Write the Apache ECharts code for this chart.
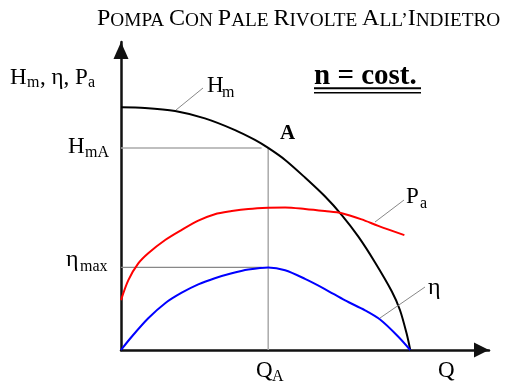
<!DOCTYPE html>
<html>
<head>
<meta charset="utf-8">
<script src="https://cdn.jsdelivr.net/npm/echarts@6/dist/echarts.min.js"></script>
<style>
  html, body { margin: 0; padding: 0; background: #fff; }
  #chart { width: 505px; height: 388px; }
</style>
</head>
<body>
<div id="chart"></div>
<script>
// Characteristic curves of a centrifugal pump, constant speed.
// Q on a 0..100 scale, heads / power / efficiency on a 0..100 scale.
const hmCurve = [
  [0, 78.8], [6.5, 78.6], [14.7, 77.6], [22.8, 75.2], [31.0, 71.4], [36.4, 68.2],
  [40, 65.6], [44.6, 61.7], [50.0, 56.0], [55.4, 49.9], [60.0, 43.8],
  [64.5, 36.8], [69.0, 28.5], [73.6, 19.0], [75.8, 13.0], [77.6, 5.4], [78.6, 0]
];
const paCurve = [
  [0, 16.2], [2.0, 22.7], [4.7, 28.1], [7.4, 31.4], [12.0, 35.7], [16.5, 39.0],
  [21.0, 42.0], [25.5, 44.1], [30.1, 45.1], [34.6, 45.8], [40, 46.2], [44.6, 46.3],
  [50.0, 45.8], [55.4, 45.1], [60.0, 44.4], [65.4, 42.4], [69.9, 40.3], [77.0, 37.3]
];
const etaCurve = [
  [0, 0], [2.9, 4.3], [7.4, 10.3], [12.0, 15.2], [16.5, 18.6], [21.0, 21.3],
  [25.5, 23.3], [30.1, 24.9], [34.6, 26.1], [40, 26.8], [44.6, 25.9],
  [50.0, 23.1], [55.4, 19.8], [60.9, 16.1], [66.3, 12.9], [70.4, 9.9],
  [75.3, 4.4], [78.6, 0]
];
const qA = 40;          // flow rate at operating point A
const axisMax = 100;

// operating point values
const hmA = hmCurve.find(p => p[0] === qA)[1];
const etaMax = Math.max(...etaCurve.map(p => p[1]));

const SERIF = '"Liberation Serif", "Times New Roman", serif';
const MIDDLE_TO_BASELINE = 0.3375;

// one text run placed by its left edge and alphabetic baseline
function run(x, baseline, str, size, weight) {
  return {
    type: 'text',
    x: x,
    y: baseline - MIDDLE_TO_BASELINE * size,
    silent: true,
    z: 100,
    style: {
      text: str,
      font: (weight || 'normal') + ' ' + size + 'px ' + SERIF,
      fill: '#000',
      align: 'left',
      verticalAlign: 'middle'
    }
  };
}

function line(x1, y1, x2, y2, color, width) {
  return {
    type: 'line', silent: true, z: 100,
    shape: { x1, y1, x2, y2 },
    style: { stroke: color, lineWidth: width }
  };
}

// small-caps heading
const measure = document.createElement('canvas').getContext('2d');
function widthOf(str, size) {
  measure.font = size + 'px ' + SERIF;
  return measure.measureText(str).width;
}
const titleParts = [['P', 'OMPA '], ['C', 'ON '], ['P', 'ALE '], ['R', 'IVOLTE '], ['A', 'LL\u2019'], ['I', 'NDIETRO']];
const titleBig = 24, titleSmall = 19.3;
const titleEls = [];
let tx = 97;
titleParts.forEach(([cap, rest]) => {
  titleEls.push(run(tx, 27, cap, titleBig));
  tx += widthOf(cap, titleBig);
  titleEls.push(run(tx, 27, rest, titleSmall));
  tx += widthOf(rest, titleSmall);
});

const graphics = [
  ...titleEls,
  // axis title
  run(10, 86, 'H', 23), run(27, 88, 'm', 16), run(40, 86, ', \u03b7, P', 23), run(88, 88, 'a', 16),
  // y reference labels
  run(68, 155, 'H', 23), run(85, 158, 'mA', 16),
  run(66, 268, '\u03b7', 24), run(80, 272, 'max', 16),
  // x labels
  run(256, 379, 'Q', 23), run(272, 382, 'A', 16),
  run(438, 379, 'Q', 23),
  // curve labels
  run(207, 94, 'H', 23), run(222, 98, 'm', 16),
  run(406, 205, 'P', 23), run(420, 209, 'a', 16),
  run(428, 296, '\u03b7', 24),
  run(280, 141, 'A', 21, 'bold'),
  run(314, 86, 'n = cost.', 29, 'bold'),
  line(314, 88.3, 421, 88.3, '#000', 2),
  line(314, 92.7, 421, 92.7, '#000', 1.6),
  // leaders
  line(176, 110, 203, 88, '#888', 1),
  line(375, 222, 404, 200, '#888', 1),
  line(380, 318, 425, 287, '#888', 1)
];

const curve = (name, data, color) => ({
  name, type: 'line', data, smooth: 0.3,
  showSymbol: false, symbol: 'none', silent: true, z: 5,
  lineStyle: { color, width: 2 }
});
const guide = (data, color, width) => ({
  type: 'line', data, symbol: 'none', silent: true, z: 3,
  lineStyle: { color, width }
});

const chart = echarts.init(document.getElementById('chart'), null, { renderer: 'canvas' });
chart.setOption({
  animation: false,
  backgroundColor: '#fff',
  grid: { left: 121, top: 42, width: 368, height: 308 },
  xAxis: {
    type: 'value', min: 0, max: axisMax,
    axisLine: {
      show: true, symbol: ['none', 'triangle'], symbolSize: [15, 15], symbolOffset: [0, -7.5],
      lineStyle: { color: '#111', width: 2.5 }
    },
    axisTick: { show: false }, axisLabel: { show: false }, splitLine: { show: false }
  },
  yAxis: {
    type: 'value', min: 0, max: axisMax,
    axisLine: {
      show: true, symbol: ['none', 'triangle'], symbolSize: [15, 17], symbolOffset: [0, -8.5],
      lineStyle: { color: '#111', width: 2.5 }
    },
    axisTick: { show: false }, axisLabel: { show: false }, splitLine: { show: false }
  },
  series: [
    guide([[0, hmA], [qA - 1.8, hmA]], '#aaa', 1.5),
    guide([[qA, 0], [qA, hmA]], '#aaa', 1.5),
    guide([[0, etaMax], [qA - 1.8, etaMax]], '#888', 1.2),
    curve('Hm', hmCurve, '#000'),
    curve('Pa', paCurve, '#ff0000'),
    curve('eta', etaCurve, '#0000ff')
  ],
  graphic: graphics
});
</script>
</body>
</html>
